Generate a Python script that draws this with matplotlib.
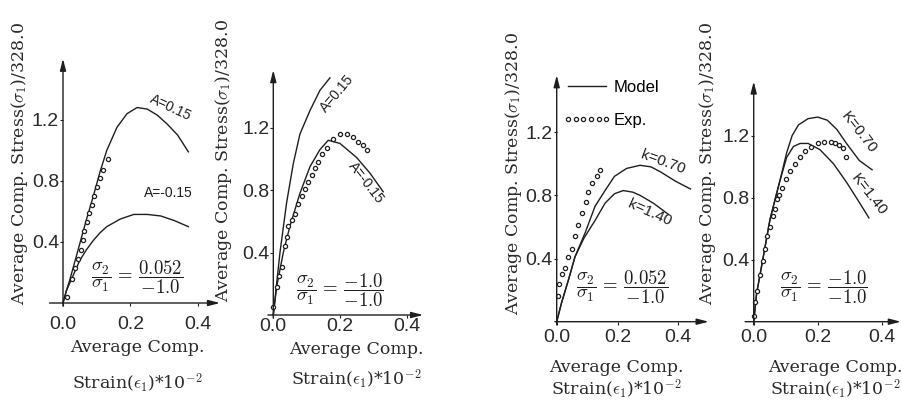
import matplotlib.pyplot as plt
from matplotlib.lines import Line2D

plt.rcParams['mathtext.fontset'] = 'cm'

W, H = 902, 401
INK = '#1e1e1e'
SERIF = ['DejaVu Serif']
TICKF = ['Liberation Sans', 'DejaVu Sans']
SANS = ['Liberation Sans', 'DejaVu Sans']

# ---- panel 1 : sigma2/sigma1 = 0.052/-1.0, parameter A ----
p1_hi_x = [0.0, 0.01, 0.02, 0.045, 0.07, 0.09, 0.11, 0.13, 0.16, 0.19, 0.22, 0.25, 0.28, 0.31, 0.34, 0.372]
p1_hi_y = [0.0, 0.08, 0.15, 0.35, 0.55, 0.70, 0.86, 1.00, 1.15, 1.24, 1.28, 1.27, 1.23, 1.17, 1.10, 0.99]
p1_lo_x = [0.0, 0.01, 0.03, 0.05, 0.07, 0.09, 0.11, 0.13, 0.17, 0.21, 0.25, 0.29, 0.33, 0.372]
p1_lo_y = [0.0, 0.08, 0.18, 0.28, 0.35, 0.41, 0.46, 0.50, 0.55, 0.58, 0.58, 0.57, 0.54, 0.50]
p1_exp_x = [0.011, 0.026, 0.036, 0.045, 0.052, 0.058, 0.063, 0.070, 0.078, 0.085, 0.092, 0.102, 0.110, 0.120, 0.134]
p1_exp_y = [0.04, 0.16, 0.23, 0.29, 0.35, 0.41, 0.47, 0.53, 0.59, 0.64, 0.70, 0.76, 0.82, 0.87, 0.94]

# ---- panel 2 : sigma2/sigma1 = -1.0/-1.0, parameter A ----
p2_hi_x = [0.0, 0.01, 0.02, 0.04, 0.06, 0.08, 0.11, 0.14, 0.17]
p2_hi_y = [0.0, 0.20, 0.40, 0.72, 0.97, 1.16, 1.31, 1.44, 1.52]
p2_lo_x = [0.0, 0.01, 0.03, 0.05, 0.08, 0.11, 0.14, 0.165, 0.20, 0.25, 0.29, 0.33]
p2_lo_y = [0.0, 0.18, 0.40, 0.57, 0.78, 0.95, 1.06, 1.12, 1.10, 1.01, 0.91, 0.79]
p2_exp_x = [0.0, 0.01, 0.018, 0.025, 0.035, 0.04, 0.045, 0.055, 0.065, 0.075, 0.085, 0.095, 0.105,
            0.115, 0.125, 0.135, 0.145, 0.16, 0.18, 0.20, 0.22, 0.24, 0.255, 0.27, 0.28]
p2_exp_y = [0.05, 0.18, 0.25, 0.31, 0.44, 0.50, 0.57, 0.61, 0.65, 0.71, 0.76, 0.81, 0.85,
            0.90, 0.94, 0.98, 1.03, 1.07, 1.13, 1.16, 1.16, 1.14, 1.11, 1.09, 1.06]

# ---- panel 3 : sigma2/sigma1 = 0.052/-1.0, parameter k ----
p3_k070_x = [0.0, 0.016, 0.038, 0.06, 0.093, 0.126, 0.159, 0.19, 0.23, 0.274, 0.31, 0.34, 0.39, 0.44]
p3_k070_y = [0.0, 0.12, 0.26, 0.41, 0.56, 0.73, 0.83, 0.92, 0.97, 0.99, 0.98, 0.95, 0.89, 0.84]
p3_k140_x = [0.0, 0.016, 0.038, 0.06, 0.09, 0.126, 0.159, 0.19, 0.219, 0.25, 0.274, 0.318, 0.367]
p3_k140_y = [0.0, 0.12, 0.26, 0.41, 0.53, 0.64, 0.75, 0.81, 0.83, 0.82, 0.80, 0.75, 0.68]
p3_exp_x = [0.003, 0.008, 0.016, 0.027, 0.038, 0.049, 0.060, 0.071, 0.082, 0.095, 0.104, 0.117, 0.132, 0.142]
p3_exp_y = [0.16, 0.24, 0.30, 0.34, 0.41, 0.46, 0.54, 0.61, 0.69, 0.76, 0.82, 0.88, 0.92, 0.96]

# ---- panel 4 : sigma2/sigma1 = -1.0/-1.0, parameter K ----
p4_k070_x = [0.0, 0.009, 0.03, 0.051, 0.067, 0.082, 0.103, 0.12, 0.14, 0.17, 0.20, 0.23, 0.26, 0.29, 0.33, 0.37]
p4_k070_y = [0.0, 0.18, 0.42, 0.66, 0.79, 0.91, 1.09, 1.20, 1.27, 1.31, 1.32, 1.30, 1.24, 1.15, 1.04, 0.98]
p4_k140_x = [0.0, 0.009, 0.03, 0.051, 0.067, 0.082, 0.103, 0.124, 0.145, 0.17, 0.207, 0.249, 0.29, 0.33, 0.36]
p4_k140_y = [0.0, 0.18, 0.42, 0.66, 0.79, 0.91, 1.06, 1.13, 1.15, 1.15, 1.11, 1.02, 0.90, 0.77, 0.67]
p4_exp_x = [0.0, 0.004, 0.011, 0.02, 0.028, 0.035, 0.043, 0.051, 0.059, 0.067, 0.074, 0.08, 0.088,
            0.10, 0.113, 0.129, 0.145, 0.16, 0.18, 0.20, 0.22, 0.24, 0.254, 0.268, 0.28, 0.288]
p4_exp_y = [0.04, 0.13, 0.20, 0.30, 0.39, 0.47, 0.55, 0.61, 0.68, 0.73, 0.79, 0.82, 0.86,
            0.92, 0.97, 1.02, 1.06, 1.10, 1.13, 1.15, 1.16, 1.16, 1.15, 1.14, 1.12, 1.06]

ratio_num = ['0.052', '-1.0', '0.052', '-1.0']
x_ticks = [0.0, 0.2, 0.4]
y_ticks = [0.4, 0.8, 1.2]

fig = plt.figure(figsize=(W / 100, H / 100), dpi=100)


def panel(ox, oy, sx, sy, x0, x1, ytop, xpad):
    # axes placed so that data (0,0) falls on pixel (ox, oy)
    l, r, t, b = ox - 30, ox + 175, 30, oy + 12
    ax = fig.add_axes([l / W, 1 - b / H, (r - l) / W, (b - t) / H])
    ax.set_xlim((l - ox) / sx, (r - ox) / sx)
    ax.set_ylim((oy - b) / sy, (oy - t) / sy)
    for s in ax.spines.values():
        s.set_visible(False)
    ax.spines['left'].set_position(('data', 0))
    ax.spines['bottom'].set_position(('data', 0))
    arrow = dict(arrowstyle='-|>,head_length=0.7,head_width=0.18', lw=1.0, color=INK,
                 shrinkA=0, shrinkB=0)
    ax.annotate('', xy=(0, ytop), xytext=(0, -0.02), arrowprops=arrow, annotation_clip=False)
    ax.annotate('', xy=(x1, 0), xytext=(x0, 0), arrowprops=arrow, annotation_clip=False)
    ax.set_xticks(x_ticks)
    ax.set_xticklabels([f'{v:.1f}' for v in x_ticks])
    ax.set_yticks(y_ticks)
    ax.set_yticklabels([f'{v:.1f}' for v in y_ticks])
    ax.tick_params(axis='x', length=2, pad=xpad, color=INK)
    ax.tick_params(axis='y', length=2, pad=0.8, color=INK)
    for lab in ax.get_xticklabels() + ax.get_yticklabels():
        lab.set_family(TICKF)
        lab.set_fontsize(14)
        lab.set_color('#2a2a2a')
    return ax


def curve(ax, x, y):
    ax.plot(x, y, color=INK, lw=1.0, clip_on=False)


def exp(ax, x, y):
    ax.plot(x, y, ls='none', marker='o', ms=3.0, mfc='white', mec=INK, mew=0.9, clip_on=False)


def note(ax, x, y, s, rot, size=10):
    ax.text(x, y, s, rotation=rot, ha='center', va='center', family=SANS, fontsize=size,
            color=INK, rotation_mode='anchor')


def ratio(ax, x, y, num):
    ax.text(x, y, r'$\dfrac{\sigma_2}{\sigma_1}\, = \,\dfrac{%s}{-1.0}$' % num,
            ha='center', va='center', fontsize=13.5, color=INK)


def labels(yx, yy, xx, xy1, xy2):
    fig.text(yx / W, 1 - yy / H, r'Average Comp. Stress($\sigma_1$)/328.0', rotation=90,
             ha='center', va='center', family=SERIF, fontsize=12.5, color='#2a2a2a')
    fig.text(xx / W, 1 - xy1 / H, 'Average Comp.', ha='center', va='center',
             family=SERIF, fontsize=12.5, color='#2a2a2a')
    fig.text(xx / W, 1 - xy2 / H, r'Strain($\epsilon_1$)*10$^{-2}$', ha='center',
             va='center', family=SERIF, fontsize=12.5, color='#2a2a2a')


# panel 1
ax1 = panel(63, 303, 337, 152.7, -0.04, 0.466, 1.6, 7.5)
curve(ax1, p1_hi_x, p1_hi_y)
curve(ax1, p1_lo_x, p1_lo_y)
exp(ax1, p1_exp_x, p1_exp_y)
note(ax1, 0.318, 1.28, 'A=0.15', -25)
note(ax1, 0.313, 0.72, 'A=-0.15', 0)
ratio(ax1, 0.219, 0.17, ratio_num[0])
labels(20, 163, 137, 348, 383)

# panel 2
ax2 = panel(273.3, 315, 333, 156, -0.016, 0.45, 1.57, 0.0)
curve(ax2, p2_hi_x, p2_hi_y)
curve(ax2, p2_lo_x, p2_lo_y)
exp(ax2, p2_exp_x, p2_exp_y)
note(ax2, 0.193, 1.42, 'A=0.15', 50)
note(ax2, 0.28, 0.85, 'A=-0.15', -52)
ratio(ax2, 0.20, 0.16, ratio_num[1])
labels(223, 160, 356, 350, 379)

# panel 3
ax3 = panel(556.7, 321.7, 304, 158, -0.006, 0.50, 1.56, 3.0)
curve(ax3, p3_k070_x, p3_k070_y)
curve(ax3, p3_k140_x, p3_k140_y)
exp(ax3, p3_exp_x, p3_exp_y)
note(ax3, 0.35, 1.01, 'k=0.70', -20, 11)
note(ax3, 0.305, 0.69, 'k=1.40', -24, 11)
ratio(ax3, 0.214, 0.22, ratio_num[2])
labels(513, 173, 616, 367, 389)
model_h = Line2D([], [], color=INK, lw=1.0)
exp_h = Line2D([], [], ls='none', marker='o', ms=3.0, mfc='white', mec=INK, mew=0.9)
ax3.legend([model_h, exp_h], ['Model', 'Exp.'], loc='upper left',
           bbox_to_anchor=(563 / W, 1 - 80 / H), bbox_transform=fig.transFigure,
           frameon=False, numpoints=6, handlelength=2.9, handletextpad=0.15,
           labelspacing=1.05, borderpad=0, borderaxespad=0,
           prop={'family': SANS, 'size': 12})

# panel 4
ax4 = panel(753.7, 321.7, 320, 155, -0.027, 0.46, 1.55, 3.0)
curve(ax4, p4_k070_x, p4_k070_y)
curve(ax4, p4_k140_x, p4_k140_y)
exp(ax4, p4_exp_x, p4_exp_y)
note(ax4, 0.33, 1.22, 'K=0.70', -52, 11)
note(ax4, 0.36, 0.82, 'K=1.40', -52, 11)
ratio(ax4, 0.219, 0.226, ratio_num[3])
labels(707, 163, 835, 367, 389)

fig.savefig('out.png', dpi=100, facecolor='white')
